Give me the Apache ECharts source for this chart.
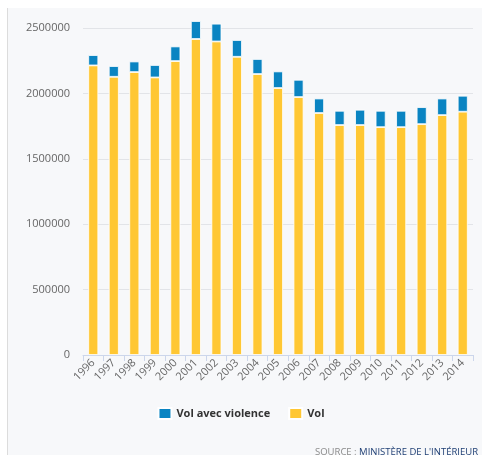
<!DOCTYPE html>
<html>
<head>
<meta charset="utf-8">
<script src="https://cdn.jsdelivr.net/npm/echarts@6/dist/echarts.min.js"></script>
<style>
html,body{margin:0;padding:0;background:#fff;}
#c{width:482px;height:455px;}
</style>
</head>
<body>
<div id="c"></div>
<script>
const years = ['1996','1997','1998','1999','2000','2001','2002','2003','2004','2005','2006','2007','2008','2009','2010','2011','2012','2013','2014'];
const vol = [2214000,2127000,2163000,2122000,2247000,2416000,2397000,2280000,2148000,2041000,1972000,1850000,1758000,1758000,1742000,1742000,1765000,1834000,1860000];
const volViolence = [79000,82000,81000,95000,112000,137000,136000,128000,115000,127000,132000,111000,109000,117000,125000,125000,130000,127000,122000];
const yTicks = [0,500000,1000000,1500000,2000000,2500000];

const chart = echarts.init(document.getElementById('c'), null, {renderer:'canvas'});
const font = '"Open Sans", "Noto Sans", sans-serif';
chart.setOption({
  backgroundColor:'#ffffff',
  animation:false,
  textStyle:{fontFamily:font},
  graphic:[
    {type:'rect', z:-10, shape:{x:7,y:8,width:476,height:448}, style:{fill:'#f7f8fa'}},
    {type:'line', z:-9, shape:{x1:7.5,y1:8,x2:7.5,y2:455}, style:{stroke:'#dcdcdc',lineWidth:1}},
    {type:'text', right:4, bottom:-2, style:{
      text:'{a|SOURCE : }{b|MINISTÈRE DE L\'INTÉRIEUR}',
      rich:{a:{fill:'#8a8a8a',fontSize:9.5,fontFamily:font},b:{fill:'#1f3f74',fontSize:9.5,fontFamily:font}}
    }}
  ],
  grid:{left:83,right:9,top:28,bottom:100},
  legend:{
    data:['Vol avec violence','Vol'],
    top:402,left:'center',
    itemWidth:13,itemHeight:11,itemGap:18,
    icon:'rect',
    textStyle:{fontWeight:'bold',fontSize:11,color:'#333',fontFamily:font}
  },
  xAxis:{
    type:'category',data:years,boundaryGap:true,
    axisLine:{lineStyle:{color:'#ccd6eb'}},
    axisTick:{show:true,length:6,lineStyle:{color:'#ccd6eb'}},
    axisLabel:{rotate:45,fontSize:11,color:'#666',margin:6,interval:0}
  },
  yAxis:{
    type:'value',min:yTicks[0],max:yTicks[yTicks.length-1],interval:500000,
    axisLine:{show:false},axisTick:{show:false},
    axisLabel:{fontSize:11,color:'#666',margin:13,formatter:function(v){return String(v);}},
    splitLine:{lineStyle:{color:'#e2e4e8'}}
  },
  series:[
    {name:'Vol',type:'bar',stack:'t',data:vol,barWidth:10,clip:false,
     itemStyle:{color:'#ffc733',borderColor:'#fff',borderWidth:0.8}},
    {name:'Vol avec violence',type:'bar',stack:'t',data:volViolence,barWidth:10,clip:false,
     itemStyle:{color:'#0a84c2',borderColor:'#fff',borderWidth:0.8}}
  ]
});
</script>
</body>
</html>
